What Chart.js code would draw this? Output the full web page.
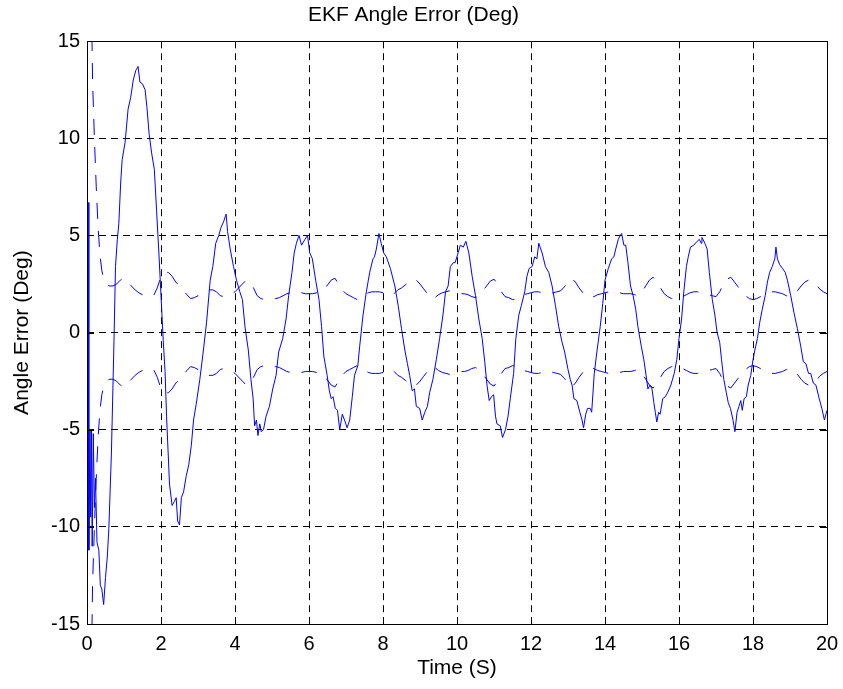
<!DOCTYPE html>
<html>
<head>
<meta charset="utf-8">
<title>EKF Angle Error (Deg)</title>
<script src="https://cdn.jsdelivr.net/npm/chart.js@4.4.0/dist/chart.umd.min.js"></script>
<style>
  html, body { margin: 0; padding: 0; background: #fff; }
  #wrap { width: 843px; height: 689px; }
</style>
</head>
<body>
<div id="wrap"><canvas id="angleChart" width="843" height="689"></canvas></div>
<script>
// tick positions
const xTickValues = [0, 2, 4, 6, 8, 10, 12, 14, 16, 18, 20];
const yTickValues = [-15, -10, -5, 0, 5, 10, 15];

// EKF angle error, solid line
const errTime = [
    0.03, 0.05, 0.08, 0.1, 0.12, 0.14, 0.17, 0.2, 0.23, 0.27, 0.32, 0.36, 0.4, 0.45, 0.5, 0.55, 0.59, 0.66, 0.73, 0.77,
    0.82, 0.86, 0.91, 0.95, 1.03, 1.11, 1.18, 1.25, 1.32, 1.38, 1.43, 1.5, 1.57, 1.62, 1.68, 1.75, 1.82, 1.88, 1.94, 2.0,
    2.06, 2.11, 2.15, 2.23, 2.3, 2.36, 2.41, 2.45, 2.5, 2.55, 2.61, 2.68, 2.75, 2.82, 2.88, 2.95, 3.05, 3.14, 3.23, 3.33,
    3.4, 3.48, 3.56, 3.62, 3.69, 3.76, 3.8, 3.87, 3.96, 4.04, 4.13, 4.2, 4.27, 4.36, 4.43, 4.49, 4.53, 4.58, 4.62, 4.67,
    4.71, 4.77, 4.84, 4.93, 5.02, 5.11, 5.18, 5.29, 5.38, 5.45, 5.54, 5.6, 5.66, 5.73, 5.8, 5.89, 5.96, 6.02, 6.09, 6.18,
    6.27, 6.34, 6.4, 6.49, 6.55, 6.6, 6.65, 6.71, 6.77, 6.83, 6.9, 6.96, 7.03, 7.1, 7.17, 7.23, 7.32, 7.37, 7.46, 7.55,
    7.64, 7.73, 7.77, 7.82, 7.89, 7.95, 8.02, 8.09, 8.2, 8.32, 8.41, 8.5, 8.59, 8.66, 8.72, 8.79, 8.85, 8.9, 8.99, 9.06,
    9.13, 9.2, 9.26, 9.35, 9.44, 9.53, 9.62, 9.69, 9.76, 9.82, 9.9, 9.95, 10.03, 10.09, 10.17, 10.24, 10.32, 10.41, 10.5, 10.59,
    10.68, 10.75, 10.81, 10.87, 10.93, 10.99, 11.04, 11.08, 11.17, 11.23, 11.31, 11.38, 11.44, 11.53, 11.59, 11.67, 11.74, 11.83, 11.89, 11.95,
    12.03, 12.1, 12.16, 12.21, 12.3, 12.39, 12.48, 12.57, 12.66, 12.75, 12.84, 12.91, 13.0, 13.06, 13.11, 13.16, 13.24, 13.32, 13.38, 13.42,
    13.48, 13.53, 13.6, 13.64, 13.71, 13.78, 13.87, 13.94, 14.0, 14.09, 14.18, 14.24, 14.29, 14.36, 14.41, 14.45, 14.51, 14.56, 14.62, 14.69,
    14.76, 14.83, 14.89, 14.98, 15.05, 15.11, 15.16, 15.22, 15.27, 15.32, 15.36, 15.4, 15.45, 15.49, 15.56, 15.63, 15.69, 15.78, 15.87, 15.94,
    16.0, 16.07, 16.13, 16.2, 16.25, 16.31, 16.4, 16.49, 16.55, 16.6, 16.62, 16.7, 16.76, 16.82, 16.9, 16.97, 17.03, 17.1, 17.15, 17.21,
    17.28, 17.33, 17.39, 17.46, 17.51, 17.57, 17.62, 17.67, 17.71, 17.76, 17.82, 17.87, 17.94, 18.0, 18.05, 18.12, 18.18, 18.25, 18.33, 18.39,
    18.45, 18.52, 18.59, 18.62, 18.66, 18.72, 18.8, 18.87, 18.93, 19.02, 19.11, 19.2, 19.29, 19.36, 19.43, 19.5, 19.56, 19.63, 19.7, 19.79,
    19.86, 19.93, 20.0
];
const errAngle = [
    6.7, -11.2, -5.0, -9.5, -5.0, -11.0, -5.2, -9.0, -7.5, -10.8, -11.2, -13.0, -13.2, -14.0, -12.6, -11.5, -10.1, -6.2, -0.4, 3.4,
    4.8, 5.6, 7.7, 8.9, 9.8, 11.5, 12.1, 13.0, 13.5, 13.7, 12.9, 12.8, 12.5, 11.6, 10.2, 9.2, 8.4, 6.3, 4.2, 1.9,
    -0.4, -2.0, -4.3, -7.8, -8.9, -8.7, -8.5, -9.7, -9.9, -8.5, -8.2, -7.4, -6.8, -5.8, -4.5, -3.7, -2.4, -1.0, 0.5, 2.7,
    3.4, 4.6, 5.0, 5.4, 5.7, 6.1, 5.2, 4.3, 3.4, 2.7, 2.1, 1.7, 0.3, -0.9, -2.4, -3.4, -4.8, -4.5, -5.3, -4.7,
    -5.1, -5.0, -4.3, -3.8, -2.9, -2.2, -1.0, -0.3, 0.7, 1.9, 3.1, 4.1, 4.6, 5.0, 4.5, 4.8, 5.0, 4.1, 3.8, 2.7,
    1.7, 0.3, -1.2, -2.2, -3.0, -3.4, -3.3, -3.9, -4.0, -5.0, -4.2, -4.5, -4.9, -4.5, -3.3, -2.2, -1.7, -0.7, 0.9, 2.1,
    3.1, 3.8, 3.9, 4.3, 5.1, 4.6, 4.1, 3.9, 3.3, 2.4, 1.4, 0.2, -0.9, -1.6, -2.2, -3.0, -2.9, -3.8, -3.9, -4.5,
    -4.1, -3.8, -3.1, -2.4, -1.4, -0.3, 0.9, 2.1, 2.4, 3.4, 3.6, 3.6, 4.1, 4.5, 4.4, 4.7, 4.1, 2.9, 1.9, 0.7,
    -0.3, -1.5, -2.7, -3.5, -3.3, -3.2, -4.3, -4.7, -4.8, -5.4, -5.0, -4.3, -3.4, -2.1, -0.3, 0.9, 1.4, 2.1, 2.9, 3.3,
    3.4, 3.9, 3.8, 4.6, 4.1, 3.4, 3.1, 2.4, 1.4, 0.3, -0.5, -1.0, -1.9, -2.4, -2.7, -3.4, -3.5, -4.1, -4.5, -4.9,
    -4.2, -3.9, -3.9, -4.1, -2.1, -1.0, 0.3, 1.5, 2.7, 3.3, 3.8, 3.9, 4.3, 4.8, 5.0, 5.1, 4.5, 4.5, 3.6, 2.4,
    1.9, 1.2, 0.3, -0.7, -1.4, -2.2, -2.9, -2.7, -2.9, -3.6, -4.1, -4.6, -4.1, -4.2, -3.4, -3.3, -3.1, -2.7, -2.1, -1.4,
    -0.3, 0.7, 2.1, 3.4, 3.9, 4.4, 4.5, 4.7, 4.8, 4.6, 4.9, 4.6, 4.3, 3.1, 1.7, 0.9, 0.0, -0.5, -1.4, -2.4,
    -3.1, -3.6, -3.9, -4.5, -5.1, -4.1, -3.8, -3.5, -4.0, -3.4, -3.3, -2.7, -2.2, -1.4, -0.9, -0.3, 0.5, 1.2, 1.9, 2.6,
    3.1, 3.4, 3.8, 4.4, 3.8, 3.5, 3.3, 3.1, 2.7, 1.9, 1.0, 0.2, -0.7, -1.5, -1.6, -2.1, -2.1, -2.6, -2.7, -3.4,
    -3.9, -4.5, -4.0
];

// error bounds, dashed lines
const boundTime = [
    0.0, 0.05, 0.1, 0.15, 0.2, 0.25, 0.3, 0.35, 0.4, 0.45, 0.5,
    0.6, 0.7, 0.8, 0.9,
    1.0, 1.1, 1.2, 1.3, 1.4, 1.5, 1.6, 1.7, 1.8, 1.9,
    2.0, 2.1, 2.2, 2.3, 2.4, 2.5, 2.6, 2.7, 2.8, 2.9,
    3.0, 3.1, 3.2, 3.3, 3.4, 3.5, 3.6, 3.7, 3.8, 3.9,
    4.0, 4.1, 4.2, 4.3, 4.4, 4.5, 4.6, 4.7, 4.8, 4.9,
    5.0, 5.1, 5.2, 5.3, 5.4, 5.5, 5.6, 5.7, 5.8, 5.9,
    6.0, 6.1, 6.2, 6.3, 6.4, 6.5, 6.6, 6.7, 6.8, 6.9,
    7.0, 7.1, 7.2, 7.3, 7.4, 7.5, 7.6, 7.7, 7.8, 7.9,
    8.0, 8.1, 8.2, 8.3, 8.4, 8.5, 8.6, 8.7, 8.8, 8.9,
    9.0, 9.1, 9.2, 9.3, 9.4, 9.5, 9.6, 9.7, 9.8, 9.9,
    10.0, 10.1, 10.2, 10.3, 10.4, 10.5, 10.6, 10.7, 10.8, 10.9,
    11.0, 11.1, 11.2, 11.3, 11.4, 11.5, 11.6, 11.7, 11.8, 11.9,
    12.0, 12.1, 12.2, 12.3, 12.4, 12.5, 12.6, 12.7, 12.8, 12.9,
    13.0, 13.1, 13.2, 13.3, 13.4, 13.5, 13.6, 13.7, 13.8, 13.9,
    14.0, 14.1, 14.2, 14.3, 14.4, 14.5, 14.6, 14.7, 14.8, 14.9,
    15.0, 15.1, 15.2, 15.3, 15.4, 15.5, 15.6, 15.7, 15.8, 15.9,
    16.0, 16.1, 16.2, 16.3, 16.4, 16.5, 16.6, 16.7, 16.8, 16.9,
    17.0, 17.1, 17.2, 17.3, 17.4, 17.5, 17.6, 17.7, 17.8, 17.9,
    18.0, 18.1, 18.2, 18.3, 18.4, 18.5, 18.6, 18.7, 18.8, 18.9,
    19.0, 19.1, 19.2, 19.3, 19.4, 19.5, 19.6, 19.7, 19.8, 19.9,
    20.0
];
const boundUpper = [
    60, 35, 20, 13, 10, 7.5, 5.4, 4.0, 3.2, 2.8, 2.6,
    2.4, 2.4, 2.5, 2.7,
    2.8, 2.6, 2.4, 2.2, 2.05, 1.95, 1.9, 1.85, 1.9, 2.3,
    2.9, 3.1, 3.1, 2.9, 2.6, 2.4, 2.2, 1.95, 1.75, 1.8,
    1.9, 2.0, 2.1, 2.2, 2.2, 2.1, 1.9, 1.85, 1.9, 2.0,
    2.1, 2.3, 2.5, 2.7, 2.6, 2.3, 1.9, 1.75, 1.7, 1.72,
    1.75, 1.75, 1.8, 1.9, 2.0, 2.05, 2.1, 2.1, 2.05, 2.0,
    2.0, 2.0, 2.05, 2.05, 2.2, 2.45, 2.7, 2.8, 2.5, 2.2,
    2.0, 1.9, 1.8, 1.7, 1.8, 1.95, 2.05, 2.1, 2.1, 2.1,
    2.05, 1.95, 1.9, 2.0, 2.2, 2.3, 2.45, 2.6, 2.75, 2.7,
    2.5, 2.25, 2.0, 1.75, 1.8, 1.95, 2.05, 2.1, 2.15, 2.1,
    2.05, 2.0, 2.0, 1.95, 1.85, 1.8, 1.9, 2.15, 2.4, 2.65,
    2.75, 2.5, 2.1, 1.85, 1.8, 1.7, 1.72, 1.8, 1.95, 2.0,
    2.05, 2.1, 2.1, 2.05, 2.0, 2.0, 2.05, 2.1, 2.15, 2.35,
    2.6, 2.8, 2.6, 2.3, 2.05, 1.85, 1.8, 1.85, 1.95, 2.0,
    2.05, 2.1, 2.1, 2.1, 2.05, 2.0, 2.0, 2.0, 1.95, 1.9,
    2.1, 2.4, 2.7, 2.85, 2.6, 2.3, 2.0, 1.85, 1.75, 1.7,
    1.75, 1.85, 1.95, 2.05, 2.1, 2.1, 2.05, 2.0, 1.95, 1.9,
    1.85, 2.1, 2.5, 2.75, 2.85, 2.6, 2.35, 2.1, 1.9, 1.75,
    1.7, 1.75, 1.85, 1.95, 2.05, 2.1, 2.1, 2.05, 2.0, 1.9,
    1.85, 1.95, 2.15, 2.4, 2.6, 2.7, 2.65, 2.5, 2.25, 2.1,
    2.0
];
const boundLower = [
    -60, -35, -20, -13, -10, -7.5, -5.4, -4.0, -3.2, -2.8, -2.6,
    -2.4, -2.4, -2.5, -2.7,
    -2.8, -2.6, -2.4, -2.2, -2.05, -1.95, -1.9, -1.85, -1.9, -2.3,
    -2.9, -3.1, -3.1, -2.9, -2.6, -2.4, -2.2, -1.95, -1.75, -1.8,
    -1.9, -2.0, -2.1, -2.2, -2.2, -2.1, -1.9, -1.85, -1.9, -2.0,
    -2.1, -2.3, -2.5, -2.7, -2.6, -2.3, -1.9, -1.75, -1.7, -1.72,
    -1.75, -1.75, -1.8, -1.9, -2.0, -2.05, -2.1, -2.1, -2.05, -2.0,
    -2.0, -2.0, -2.05, -2.05, -2.2, -2.45, -2.7, -2.8, -2.5, -2.2,
    -2.0, -1.9, -1.8, -1.7, -1.8, -1.95, -2.05, -2.1, -2.1, -2.1,
    -2.05, -1.95, -1.9, -2.0, -2.2, -2.3, -2.45, -2.6, -2.75, -2.7,
    -2.5, -2.25, -2.0, -1.75, -1.8, -1.95, -2.05, -2.1, -2.15, -2.1,
    -2.05, -2.0, -2.0, -1.95, -1.85, -1.8, -1.9, -2.15, -2.4, -2.65,
    -2.75, -2.5, -2.1, -1.85, -1.8, -1.7, -1.72, -1.8, -1.95, -2.0,
    -2.05, -2.1, -2.1, -2.05, -2.0, -2.0, -2.05, -2.1, -2.15, -2.35,
    -2.6, -2.8, -2.6, -2.3, -2.05, -1.85, -1.8, -1.85, -1.95, -2.0,
    -2.05, -2.1, -2.1, -2.1, -2.05, -2.0, -2.0, -2.0, -1.95, -1.9,
    -2.1, -2.4, -2.7, -2.85, -2.6, -2.3, -2.0, -1.85, -1.75, -1.7,
    -1.75, -1.85, -1.95, -2.05, -2.1, -2.1, -2.05, -2.0, -1.95, -1.9,
    -1.85, -2.1, -2.5, -2.75, -2.85, -2.6, -2.35, -2.1, -1.9, -1.75,
    -1.7, -1.75, -1.85, -1.95, -2.05, -2.1, -2.1, -2.05, -2.0, -1.9,
    -1.85, -1.95, -2.15, -2.4, -2.6, -2.7, -2.65, -2.5, -2.25, -2.1,
    -2.0
];

const FONT = '"Liberation Sans", Arial, Helvetica, sans-serif';
const BLUE = '#0000ff';

function toPoints(xs, ys) {
    return xs.map((x, i) => ({x: x, y: ys[i]}));
}

// axes box plus the small inward tick marks on all four sides
const frameTicks = {
    id: 'frameTicks',
    afterDraw: function(chart) {
        const ctx = chart.ctx;
        const a = chart.chartArea;
        const xs = chart.scales.x;
        const ys = chart.scales.y;
        const len = 7;
        ctx.save();
        ctx.strokeStyle = '#000';
        ctx.lineWidth = 1;
        ctx.setLineDash([]);
        ctx.beginPath();
        xTickValues.forEach(function(v) {
            const px = Math.round(xs.getPixelForValue(v)) + 0.5;
            ctx.moveTo(px, a.bottom); ctx.lineTo(px, a.bottom - len);
            ctx.moveTo(px, a.top); ctx.lineTo(px, a.top + len);
        });
        yTickValues.forEach(function(v) {
            const py = Math.round(ys.getPixelForValue(v)) + 0.5;
            ctx.moveTo(a.left, py); ctx.lineTo(a.left + len, py);
            ctx.moveTo(a.right, py); ctx.lineTo(a.right - len, py);
        });
        ctx.stroke();
        ctx.strokeRect(Math.round(a.left) + 0.5, Math.round(a.top) + 0.5,
            Math.round(a.right - a.left), Math.round(a.bottom - a.top));
        ctx.restore();
    }
};

const boundStyle = {
    borderColor: BLUE,
    borderWidth: 1,
    borderDash: [16, 12],
    pointRadius: 0,
    tension: 0,
    fill: false
};

new Chart(document.getElementById('angleChart').getContext('2d'), {
    type: 'line',
    data: {
        datasets: [
            Object.assign({label: 'Upper bound', data: toPoints(boundTime, boundUpper)}, boundStyle),
            Object.assign({label: 'Lower bound', data: toPoints(boundTime, boundLower)}, boundStyle),
            {
                label: 'Angle error',
                data: toPoints(errTime, errAngle),
                borderColor: BLUE,
                borderWidth: 1,
                pointRadius: 0,
                tension: 0,
                fill: false
            }
        ]
    },
    options: {
        responsive: false,
        animation: false,
        devicePixelRatio: 1,
        layout: {padding: {left: 0, right: 16, top: 0, bottom: 0}},
        plugins: {
            legend: {display: false},
            tooltip: {enabled: false},
            title: {
                display: true,
                text: 'EKF Angle Error (Deg)',
                color: '#000',
                font: {family: FONT, size: 21, weight: 'normal'},
                padding: {top: 3, bottom: 13}
            }
        },
        scales: {
            x: {
                type: 'linear',
                min: 0,
                max: 20,
                afterBuildTicks: function(scale) {
                    scale.ticks = xTickValues.map(v => ({value: v}));
                },
                afterFit: function(scale) {
                    scale.height = 65;
                    // labels at the ends may hang over the box edge
                    scale.paddingLeft = 0;
                    scale.paddingRight = 0;
                },
                ticks: {
                    color: '#000',
                    font: {family: FONT, size: 20},
                    padding: 8,
                    maxRotation: 0,
                    autoSkip: false
                },
                grid: {
                    color: '#000',
                    lineWidth: 1,
                    drawTicks: false
                },
                border: {display: false, dash: [7, 5]},
                title: {
                    display: true,
                    text: 'Time (S)',
                    color: '#000',
                    font: {family: FONT, size: 21},
                    padding: {top: 0, bottom: 8}
                }
            },
            y: {
                type: 'linear',
                min: -15,
                max: 15,
                afterBuildTicks: function(scale) {
                    scale.ticks = yTickValues.map(v => ({value: v}));
                },
                afterFit: function(scale) { scale.width = 87; },
                ticks: {
                    color: '#000',
                    font: {family: FONT, size: 20},
                    padding: 7,
                    autoSkip: false
                },
                grid: {
                    color: '#000',
                    lineWidth: 1,
                    drawTicks: false
                },
                border: {display: false, dash: [7, 5]},
                title: {
                    display: true,
                    text: 'Angle Error (Deg)',
                    color: '#000',
                    font: {family: FONT, size: 21},
                    padding: {top: 10, bottom: 0}
                }
            }
        }
    },
    plugins: [frameTicks]
});
</script>
</body>
</html>
